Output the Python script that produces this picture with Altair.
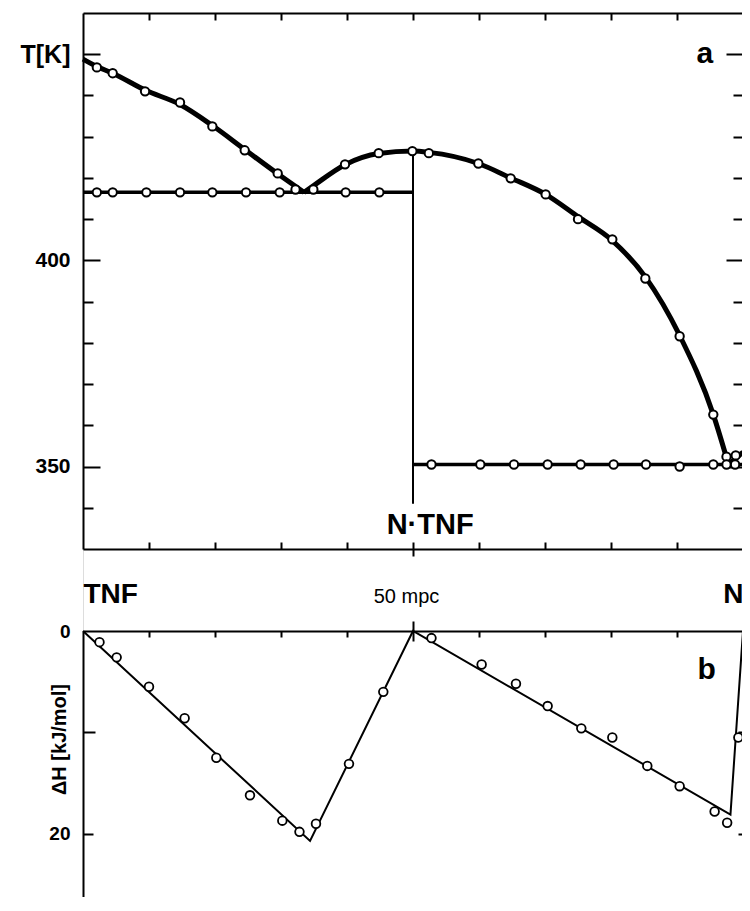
import altair as alt
import pandas as pd

FONT = "Liberation Sans"

# ---------------- panel a : T[K] vs mol-% N ----------------
liq_tnf_x = [0, 2.1, 4.5, 9.4, 14.7, 19.6, 24.5, 29.5, 33.5]
liq_tnf_t = [448.8, 447.0, 445.4, 441.3, 437.8, 432.7, 426.9, 421.0, 416.5]
liq_cpd_x = [33.5, 35.0, 39.7, 44.8, 50.0, 52.4, 59.9, 64.8, 70.1, 75.0, 80.2, 85.2, 90.4, 95.5, 97.8]
liq_cpd_t = [416.5, 418.2, 423.2, 425.9, 426.5, 426.2, 423.5, 420.0, 416.0, 410.6, 404.8, 396.0, 381.8, 362.6, 350.5]
liq_n_x = [97.8, 100]
liq_n_t = [350.5, 353.5]
eut1_x = [0, 50]
eut1_t = [416.5, 416.5]
eut2_x = [50, 100]
eut2_t = [350.5, 350.5]
cpd_x = [50]
cpd_t_top = [426.5]
cpd_t_bottom = [341.0]
pl_x = [2.1, 4.5, 9.4, 14.7, 19.6, 24.5, 29.5, 32.2, 34.9, 39.7, 44.8, 49.9, 52.4,
        59.9, 64.8, 70.1, 75.0, 80.2, 85.2, 90.4, 95.5, 97.5, 98.9]
pl_t = [446.8, 445.4, 441.0, 438.3, 432.5, 426.7, 421.1, 417.2, 417.2, 423.3, 426.0, 426.5, 426.0,
        423.5, 419.9, 416.0, 410.0, 405.1, 395.6, 381.6, 362.6, 352.4, 352.7]
pe1_x = [2.1, 4.5, 9.6, 14.7, 19.6, 24.7, 29.8, 39.8, 44.9]
pe1_t = [416.5] * 9
pe2_x = [52.8, 60.2, 65.3, 70.4, 75.4, 80.4, 85.3, 90.4, 95.5, 97.5, 98.8]
pe2_t = [350.5, 350.5, 350.5, 350.5, 350.5, 350.5, 350.5, 350.0, 350.5, 350.5, 350.5]

# ---------------- panel b : enthalpy ----------------
dh_line_x = [0, 34.4, 50, 98.1, 100]
dh_line_y = [0, 20.7, 0, 18.1, 0]
dh_pts_x = [2.5, 5.1, 10.0, 15.4, 20.2, 25.3, 30.2, 32.8, 35.3, 40.3, 45.5, 52.8, 60.4, 65.6,
            70.4, 75.5, 80.2, 85.5, 90.4, 95.7, 97.6, 99.3]
dh_pts_y = [1.1, 2.6, 5.5, 8.6, 12.5, 16.2, 18.7, 19.8, 19.0, 13.1, 6.0, 0.7, 3.3, 5.2,
            7.4, 9.6, 10.5, 13.3, 15.3, 17.8, 18.9, 10.5]

T_DOMAIN = [330, 460]
H_DOMAIN = [0, 28]
T_ticks = [340, 350, 360, 370, 380, 390, 400, 410, 420, 430, 440, 450]
T_labels = [350, 400, 450]
x_ticks = [10, 20, 30, 40, 50, 60, 70, 80, 90]
H_ticks = [10, 20]
H_labels = [0, 20]

# ---------------- layout (pixels) ----------------
W = 659            # visible plot width (right frame is cropped, as in the original)
XR = 660
H = 884            # whole drawing height; lower frame of panel b is cropped
TOP_H = 536        # panel a height
B0, B1 = 618, 902  # panel b vertical range

xs = alt.Scale(domain=[0, 100], range=[0, XR], nice=False, zero=False)
ys_a = alt.Scale(domain=T_DOMAIN, range=[TOP_H, 0], nice=False, zero=False)
ys_b = alt.Scale(domain=H_DOMAIN, range=[B0, B1], nice=False, zero=False)


def ax(**kw):
    base = dict(grid=False, title=None, domain=False, ticks=True, labels=False,
                tickColor="black", tickWidth=2, domainColor="black", domainWidth=2,
                labelFont=FONT, labelColor="black", minExtent=0, maxExtent=1000, labelOverlap=False)
    base.update(kw)
    return alt.Axis(**base)


major_minor = {"condition": {"test": "datum.value % 50 == 0", "value": 17}, "value": 10}

# panel a axes
A_left_frame = ax(orient="right", offset=-W, values=T_ticks, tickSize=major_minor, domain=True)
A_left_labels = ax(orient="left", offset=0, values=T_labels, tickSize=0, tickOpacity=0, labels=True,
                   labelExpr="datum.value == 450 ? 'T[K]' : datum.label",
                   labelFontSize={"condition": {"test": "datum.value == 450", "value": 25}, "value": 21},
                   labelFontWeight="bold", labelPadding=13)
A_right_frame = ax(orient="left", offset=-XR, values=T_ticks, tickSize=major_minor, domain=True)
A_top_frame = ax(orient="bottom", offset=-H, values=x_ticks, tickSize=7, domain=True)
A_bottom_frame = ax(orient="top", offset=-TOP_H, values=x_ticks, tickSize=7, domain=True)
A_bottom_labels = ax(orient="bottom", offset=TOP_H - H, values=[0, 50, 100], tickSize=7,
                     tickOpacity={"condition": {"test": "datum.value == 50", "value": 1}, "value": 0},
                     labels=True,
                     labelExpr="datum.value == 0 ? 'TNF' : (datum.value == 50 ? '50 mpc' : 'N')",
                     labelAlign={"condition": [{"test": "datum.value == 0", "value": "left"},
                                               {"test": "datum.value == 100", "value": "right"}],
                                 "value": "center"},
                     labelOffset={"condition": {"test": "datum.value == 50", "value": -7}, "value": 0},
                     labelFontSize={"condition": {"test": "datum.value == 50", "value": 20}, "value": 28},
                     labelFontWeight={"condition": {"test": "datum.value == 50", "value": "normal"},
                                      "value": "bold"},
                     labelBaseline="alphabetic", labelPadding=46, labelFlush=False)

# panel b axes
B_left_frame = ax(orient="right", offset=-W, values=H_ticks,
                  tickSize={"condition": {"test": "datum.value == 10", "value": 12}, "value": 10},
                  domain=True)
B_left_labels = ax(orient="left", offset=0, values=H_labels, tickSize=0, tickOpacity=0, labels=True,
                   labelFontSize=19, labelFontWeight="bold", labelPadding=13,
                   title="ΔH [kJ/mol]", titleFont=FONT, titleFontSize=20, titleFontWeight="bold",
                   titleColor="black", titleAngle=270, titleAlign="center", titleBaseline="middle",
                   titleX=-24, titleY=726)
B_right_frame = ax(orient="left", offset=-XR, values=H_ticks, tickSize=5, domain=True)
B_top_frame = ax(orient="bottom", offset=B0 - H, values=x_ticks,
                 tickSize={"condition": {"test": "datum.value == 50", "value": 10}, "value": 6},
                 domain=True)
B_top_50 = ax(orient="top", offset=-B0, values=[50], tickSize=10)
B_bottom_frame = ax(orient="top", offset=-B1, values=x_ticks, tickSize=5, domain=True)

# ---------------- data frames ----------------
df_liq = pd.concat([
    pd.DataFrame({"x": liq_tnf_x, "T": liq_tnf_t, "b": "tnf"}),
    pd.DataFrame({"x": liq_cpd_x, "T": liq_cpd_t, "b": "cpd"}),
    pd.DataFrame({"x": liq_n_x, "T": liq_n_t, "b": "n"}),
])
df_eut = pd.concat([
    pd.DataFrame({"x": eut1_x, "T": eut1_t, "b": "e1"}),
    pd.DataFrame({"x": eut2_x, "T": eut2_t, "b": "e2"}),
])
df_cpd = pd.DataFrame({"x": cpd_x, "T": cpd_t_bottom, "T2": cpd_t_top})
df_pts = pd.concat([
    pd.DataFrame({"x": pl_x, "T": pl_t}),
    pd.DataFrame({"x": pe1_x, "T": pe1_t}),
    pd.DataFrame({"x": pe2_x, "T": pe2_t}),
])
df_txt_a = pd.DataFrame({"x": [52.6, 94.2], "T": [333.7, 447.8], "t": ["N·TNF", "a"], "fs": [29, 30]})
df_dh_line = pd.DataFrame({"x": dh_line_x, "h": dh_line_y})
df_dh_pts = pd.DataFrame({"x": dh_pts_x, "h": dh_pts_y})
df_txt_b = pd.DataFrame({"x": [94.5], "h": [4.7], "t": ["b"]})

# ---------------- panel a layers ----------------
eut = alt.Chart(df_eut).mark_line(color="black", strokeWidth=3.5).encode(
    x=alt.X("x:Q", scale=xs, axis=A_top_frame),
    y=alt.Y("T:Q", scale=ys_a, axis=A_left_frame),
    detail="b:N",
)
cpd = alt.Chart(df_cpd).mark_rule(color="black", strokeWidth=2).encode(
    x=alt.X("x:Q", scale=xs, axis=A_bottom_frame),
    y=alt.Y("T:Q", scale=ys_a, axis=A_left_labels),
    y2="T2:Q",
)
liq = alt.Chart(df_liq).mark_line(color="black", strokeWidth=5, interpolate="monotone").encode(
    x=alt.X("x:Q", scale=xs, axis=A_bottom_labels),
    y=alt.Y("T:Q", scale=ys_a, axis=A_right_frame),
    detail="b:N",
)
pts = alt.Chart(df_pts).mark_point(shape="circle", filled=True, fill="white", stroke="black",
                                   strokeWidth=2, size=70, opacity=1).encode(
    x=alt.X("x:Q", scale=xs, axis=None),
    y=alt.Y("T:Q", scale=ys_a, axis=None),
)
txt_a = alt.Chart(df_txt_a).mark_text(font=FONT, color="black", baseline="alphabetic", align="center",
                                      fontWeight="bold").encode(
    x=alt.X("x:Q", scale=xs, axis=None),
    y=alt.Y("T:Q", scale=ys_a, axis=None),
    text="t:N",
    size=alt.Size("fs:Q", scale=None),
)

# ---------------- panel b layers ----------------
dh_line = alt.Chart(df_dh_line).mark_line(color="black", strokeWidth=2).encode(
    x=alt.X("x:Q", scale=xs, axis=B_top_frame),
    y=alt.Y("h:Q", scale=ys_b, axis=B_left_frame),
    order="x:Q",
)
dh_pts = alt.Chart(df_dh_pts).mark_point(shape="circle", filled=True, fill="white", stroke="black",
                                         strokeWidth=1.8, size=75, opacity=1).encode(
    x=alt.X("x:Q", scale=xs, axis=B_top_50),
    y=alt.Y("h:Q", scale=ys_b, axis=B_left_labels),
)
txt_b = alt.Chart(df_txt_b).mark_text(font=FONT, color="black", baseline="alphabetic", align="center",
                                      fontSize=30, fontWeight="bold").encode(
    x=alt.X("x:Q", scale=xs, axis=B_bottom_frame),
    y=alt.Y("h:Q", scale=ys_b, axis=B_right_frame),
    text="t:N",
)

chart = alt.layer(eut, cpd, liq, pts, txt_a, dh_line, dh_pts, txt_b).resolve_scale(
    y="independent"
).resolve_axis(
    x="independent", y="independent"
).properties(
    width=W, height=H,
    autosize=alt.AutoSizeParams(type="none"),
    padding={"left": 75, "top": 5, "right": 0, "bottom": 0},
).configure_view(stroke=None).configure(background="white")

chart.save("out.html", embed_options={"renderer": "svg", "actions": False})
